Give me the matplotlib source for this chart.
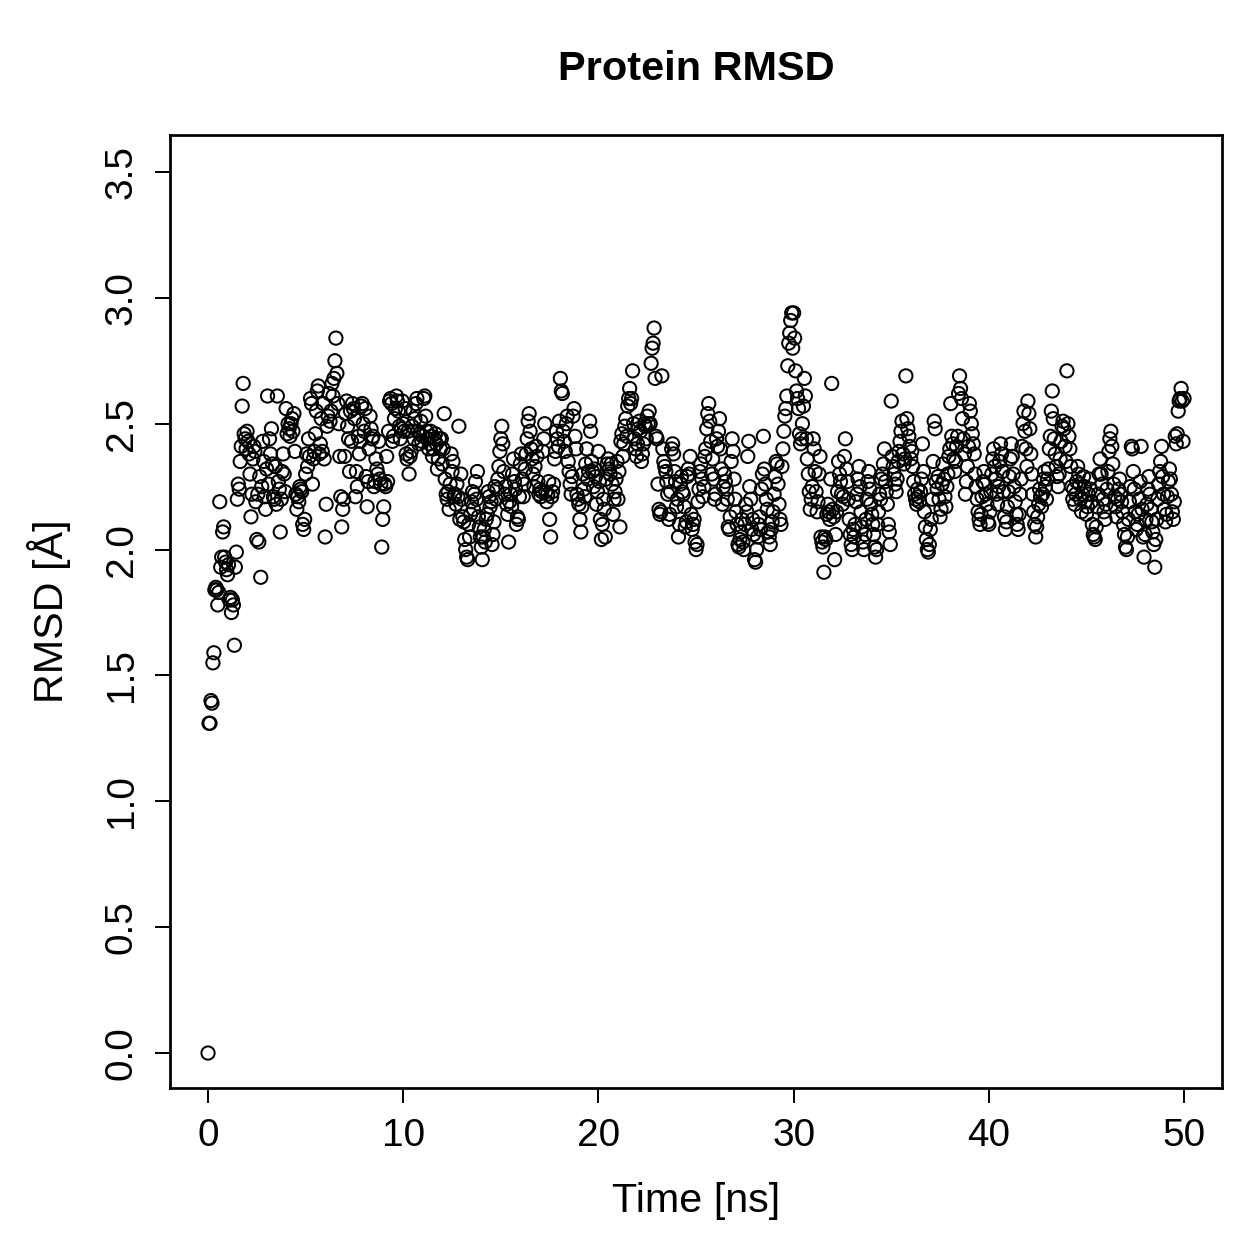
import numpy as np
import matplotlib
matplotlib.use("Agg")
import matplotlib.pyplot as plt

plt.rcParams['font.family'] = ['Liberation Sans', 'DejaVu Sans']

# RMSD values, one row per ns (20 frames per ns)
rmsd_rows = [
    [0.00, 1.31, 1.31, 1.40, 1.39, 1.55, 1.59, 1.84, 1.85, 1.84, 1.78, 1.83, 2.19, 1.93, 1.97, 2.07, 2.09, 1.97, 1.95, 1.92],
    [1.90, 1.94, 1.80, 1.81, 1.75, 1.80, 1.78, 1.62, 1.93, 1.99, 2.20, 2.26, 2.24, 2.35, 2.41, 2.57, 2.66, 2.46, 2.44, 2.40],
    [2.47, 2.43, 2.38, 2.30, 2.13, 2.22, 2.36, 2.41, 2.39, 2.19, 2.04, 2.22, 2.03, 2.29, 1.89, 2.25, 2.43, 2.35, 2.21, 2.16],
    [2.32, 2.61, 2.26, 2.44, 2.38, 2.48, 2.34, 2.21, 2.20, 2.33, 2.18, 2.61, 2.27, 2.24, 2.07, 2.20, 2.31, 2.38, 2.30, 2.23],
    [2.56, 2.46, 2.50, 2.48, 2.45, 2.50, 2.52, 2.47, 2.54, 2.39, 2.22, 2.16, 2.21, 2.19, 2.25, 2.24, 2.23, 2.10, 2.08, 2.12],
    [2.30, 2.38, 2.33, 2.44, 2.37, 2.60, 2.58, 2.26, 2.36, 2.39, 2.46, 2.55, 2.63, 2.65, 2.38, 2.42, 2.52, 2.39, 2.58, 2.36],
    [2.05, 2.18, 2.49, 2.53, 2.62, 2.51, 2.55, 2.66, 2.61, 2.68, 2.75, 2.84, 2.70, 2.58, 2.50, 2.37, 2.21, 2.09, 2.16, 2.20],
    [2.37, 2.54, 2.59, 2.49, 2.44, 2.31, 2.55, 2.43, 2.58, 2.56, 2.52, 2.21, 2.31, 2.25, 2.45, 2.38, 2.43, 2.57, 2.58, 2.50],
    [2.47, 2.56, 2.29, 2.17, 2.27, 2.40, 2.53, 2.48, 2.44, 2.45, 2.25, 2.27, 2.36, 2.32, 2.30, 2.43, 2.28, 2.26, 2.01, 2.12],
    [2.17, 2.26, 2.25, 2.37, 2.27, 2.47, 2.59, 2.60, 2.58, 2.43, 2.45, 2.52, 2.56, 2.61, 2.59, 2.55, 2.49, 2.44, 2.48, 2.59],
    [2.50, 2.47, 2.56, 2.38, 2.36, 2.47, 2.30, 2.37, 2.39, 2.49, 2.55, 2.44, 2.52, 2.58, 2.60, 2.47, 2.42, 2.46, 2.51, 2.43],
    [2.45, 2.60, 2.61, 2.53, 2.47, 2.44, 2.40, 2.42, 2.47, 2.45, 2.37, 2.40, 2.44, 2.46, 2.42, 2.32, 2.36, 2.44, 2.40, 2.44],
    [2.34, 2.40, 2.54, 2.28, 2.22, 2.20, 2.23, 2.16, 2.26, 2.38, 2.31, 2.35, 2.21, 2.22, 2.18, 2.26, 2.21, 2.49, 2.12, 2.30],
    [2.20, 2.13, 2.11, 2.04, 2.00, 1.97, 1.96, 2.10, 2.05, 2.14, 2.19, 2.23, 2.16, 2.22, 2.27, 2.20, 2.31, 2.13, 2.09, 2.05],
    [2.01, 1.96, 2.05, 2.08, 2.03, 2.12, 2.14, 2.23, 2.21, 2.17, 2.19, 2.02, 2.06, 2.11, 2.25, 2.20, 2.24, 2.28, 2.33, 2.39],
    [2.44, 2.49, 2.42, 2.31, 2.22, 2.25, 2.18, 2.14, 2.03, 2.19, 2.22, 2.17, 2.30, 2.36, 2.27, 2.24, 2.10, 2.13, 2.12, 2.21],
    [2.34, 2.38, 2.28, 2.21, 2.26, 2.32, 2.38, 2.44, 2.51, 2.54, 2.47, 2.40, 2.36, 2.30, 2.25, 2.33, 2.41, 2.37, 2.27, 2.22],
    [2.24, 2.21, 2.23, 2.39, 2.44, 2.50, 2.23, 2.19, 2.22, 2.27, 2.12, 2.05, 2.21, 2.23, 2.26, 2.36, 2.39, 2.47, 2.44, 2.41],
    [2.51, 2.68, 2.63, 2.62, 2.47, 2.43, 2.39, 2.50, 2.53, 2.35, 2.31, 2.26, 2.22, 2.29, 2.53, 2.56, 2.45, 2.40, 2.22, 2.20],
    [2.18, 2.12, 2.07, 2.17, 2.30, 2.24, 2.21, 2.34, 2.40, 2.28, 2.31, 2.51, 2.47, 2.35, 2.31, 2.25, 2.32, 2.29, 2.18, 2.23],
    [2.39, 2.27, 2.12, 2.04, 2.10, 2.20, 2.16, 2.05, 2.28, 2.34, 2.36, 2.32, 2.30, 2.34, 2.26, 2.14, 2.20, 2.23, 2.28, 2.35],
    [2.20, 2.31, 2.09, 2.43, 2.46, 2.37, 2.42, 2.49, 2.52, 2.45, 2.57, 2.60, 2.64, 2.58, 2.60, 2.71, 2.50, 2.44, 2.40, 2.37],
    [2.42, 2.48, 2.51, 2.47, 2.35, 2.38, 2.42, 2.50, 2.49, 2.44, 2.53, 2.50, 2.55, 2.50, 2.74, 2.80, 2.82, 2.88, 2.68, 2.45],
    [2.44, 2.26, 2.16, 2.14, 2.15, 2.69, 2.40, 2.35, 2.33, 2.31, 2.27, 2.22, 2.12, 2.14, 2.23, 2.40, 2.42, 2.38, 2.31, 2.27],
    [2.17, 2.20, 2.05, 2.10, 2.26, 2.29, 2.23, 2.22, 2.17, 2.09, 2.11, 2.29, 2.32, 2.30, 2.37, 2.14, 2.08, 2.10, 2.12, 2.03],
    [2.00, 2.02, 2.19, 2.24, 2.31, 2.34, 2.28, 2.21, 2.25, 2.37, 2.40, 2.48, 2.54, 2.58, 2.51, 2.43, 2.30, 2.36, 2.28, 2.20],
    [2.22, 2.44, 2.41, 2.47, 2.52, 2.40, 2.32, 2.18, 2.25, 2.30, 2.27, 2.24, 2.20, 2.09, 2.08, 2.13, 2.35, 2.44, 2.39, 2.28],
    [2.20, 2.15, 2.10, 2.02, 2.01, 2.04, 2.07, 2.12, 2.03, 2.00, 2.10, 2.18, 2.15, 2.37, 2.43, 2.25, 2.20, 2.08, 2.12, 2.06],
    [1.96, 1.95, 2.00, 2.05, 2.10, 2.13, 2.08, 2.24, 2.30, 2.45, 2.32, 2.26, 2.20, 2.16, 2.07, 2.05, 2.02, 2.08, 2.11, 2.15],
    [2.22, 2.29, 2.35, 2.34, 2.26, 2.18, 2.12, 2.10, 2.33, 2.40, 2.47, 2.53, 2.56, 2.61, 2.73, 2.82, 2.86, 2.91, 2.94, 2.80],
    [2.94, 2.84, 2.71, 2.63, 2.60, 2.56, 2.46, 2.42, 2.44, 2.50, 2.57, 2.68, 2.61, 2.44, 2.36, 2.30, 2.23, 2.16, 2.20, 2.25],
    [2.44, 2.40, 2.31, 2.23, 2.15, 2.19, 2.30, 2.37, 2.05, 2.03, 2.01, 1.91, 2.05, 2.04, 2.14, 2.18, 2.15, 2.12, 2.28, 2.66],
    [2.16, 2.13, 1.96, 2.06, 2.15, 2.23, 2.35, 2.30, 2.27, 2.22, 2.18, 2.21, 2.37, 2.44, 2.32, 2.27, 2.20, 2.12, 2.06, 2.02],
    [2.00, 2.08, 2.05, 2.10, 2.19, 2.22, 2.28, 2.33, 2.25, 2.15, 2.09, 2.03, 2.00, 2.06, 2.12, 2.20, 2.27, 2.31, 2.24, 2.18],
    [2.14, 2.10, 2.06, 2.01, 1.97, 2.00, 2.10, 2.15, 2.22, 2.20, 2.28, 2.30, 2.34, 2.40, 2.27, 2.23, 2.18, 2.10, 2.07, 2.02],
    [2.59, 2.37, 2.33, 2.30, 2.26, 2.23, 2.28, 2.35, 2.39, 2.43, 2.47, 2.51, 2.38, 2.34, 2.36, 2.69, 2.52, 2.48, 2.45, 2.41],
    [2.36, 2.39, 2.33, 2.27, 2.22, 2.20, 2.18, 2.24, 2.21, 2.19, 2.23, 2.28, 2.42, 2.31, 2.15, 2.09, 2.04, 2.00, 1.99, 2.02],
    [2.08, 2.12, 2.20, 2.35, 2.51, 2.48, 2.27, 2.24, 2.29, 2.20, 2.13, 2.16, 2.26, 2.34, 2.28, 2.21, 2.17, 2.25, 2.30, 2.37],
    [2.40, 2.58, 2.45, 2.42, 2.36, 2.31, 2.35, 2.41, 2.45, 2.62, 2.69, 2.64, 2.60, 2.52, 2.44, 2.38, 2.22, 2.27, 2.33, 2.41],
    [2.58, 2.55, 2.50, 2.46, 2.42, 2.38, 2.30, 2.25, 2.20, 2.15, 2.12, 2.10, 2.14, 2.21, 2.27, 2.31, 2.26, 2.22, 2.18, 2.11],
    [2.10, 2.15, 2.23, 2.30, 2.36, 2.40, 2.33, 2.28, 2.22, 2.18, 2.25, 2.35, 2.42, 2.38, 2.31, 2.23, 2.13, 2.08, 2.11, 2.17],
    [2.23, 2.29, 2.36, 2.42, 2.37, 2.30, 2.25, 2.19, 2.14, 2.10, 2.08, 2.14, 2.22, 2.28, 2.41, 2.50, 2.55, 2.47, 2.40, 2.33],
    [2.59, 2.54, 2.48, 2.38, 2.30, 2.22, 2.15, 2.10, 2.05, 2.09, 2.13, 2.18, 2.24, 2.21, 2.17, 2.22, 2.28, 2.31, 2.25, 2.20],
    [2.28, 2.32, 2.40, 2.45, 2.55, 2.63, 2.52, 2.44, 2.38, 2.33, 2.29, 2.25, 2.30, 2.36, 2.43, 2.49, 2.51, 2.48, 2.41, 2.35],
    [2.71, 2.50, 2.45, 2.40, 2.33, 2.25, 2.20, 2.24, 2.18, 2.22, 2.27, 2.33, 2.30, 2.26, 2.20, 2.15, 2.22, 2.29, 2.25, 2.19],
    [2.14, 2.17, 2.22, 2.28, 2.24, 2.19, 2.10, 2.06, 2.05, 2.04, 2.09, 2.17, 2.22, 2.30, 2.36, 2.30, 2.26, 2.20, 2.15, 2.12],
    [2.18, 2.24, 2.31, 2.39, 2.44, 2.47, 2.41, 2.34, 2.26, 2.21, 2.17, 2.13, 2.20, 2.24, 2.28, 2.22, 2.19, 2.15, 2.10, 2.06],
    [2.01, 2.00, 2.05, 2.12, 2.19, 2.25, 2.41, 2.40, 2.31, 2.24, 2.15, 2.08, 2.10, 2.14, 2.20, 2.27, 2.41, 2.16, 2.05, 1.97],
    [2.06, 2.12, 2.18, 2.24, 2.29, 2.22, 2.16, 2.11, 2.07, 2.02, 1.93, 2.04, 2.12, 2.20, 2.26, 2.31, 2.35, 2.41, 2.29, 2.22],
    [2.16, 2.11, 2.14, 2.21, 2.27, 2.32, 2.28, 2.22, 2.15, 2.12, 2.19, 2.45, 2.42, 2.46, 2.55, 2.59, 2.60, 2.64, 2.59, 2.43],
]
rmsd_last = 2.60
frame_step_ns = 0.05

x_ticks = [0, 10, 20, 30, 40, 50]
y_ticks = [0.0, 0.5, 1.0, 1.5, 2.0, 2.5, 3.0, 3.5]

rmsd = np.array([v for row in rmsd_rows for v in row] + [rmsd_last])
time_ns = np.arange(len(rmsd)) * frame_step_ns

fig = plt.figure(figsize=(1259 / 180, 1259 / 180), dpi=180)
ax = fig.add_axes([0.135, 0.1358, 0.8357, 0.757])

ax.scatter(time_ns, rmsd, s=28, facecolors='none', edgecolors='black', linewidths=0.8)

ax.set_xlim(-1.95, 51.95)
ax.set_ylim(-0.139, 3.647)
ax.set_xticks(x_ticks)
ax.set_xticklabels([str(t) for t in x_ticks])
ax.set_yticks(y_ticks)
ax.set_yticklabels([f"{t:.1f}" for t in y_ticks], rotation=90, va='center')

ax.tick_params(axis='both', direction='out', length=6, width=0.8, labelsize=15.5, pad=6)
for sp in ax.spines.values():
    sp.set_linewidth(1.1)

ax.set_xlabel("Time [ns]", fontsize=16.5, labelpad=11)
ax.set_ylabel("RMSD [Å]", fontsize=16.5, labelpad=13)
ax.set_title("Protein RMSD", fontsize=16.6, fontweight='bold', pad=22)

fig.savefig("out.png", dpi=180)
